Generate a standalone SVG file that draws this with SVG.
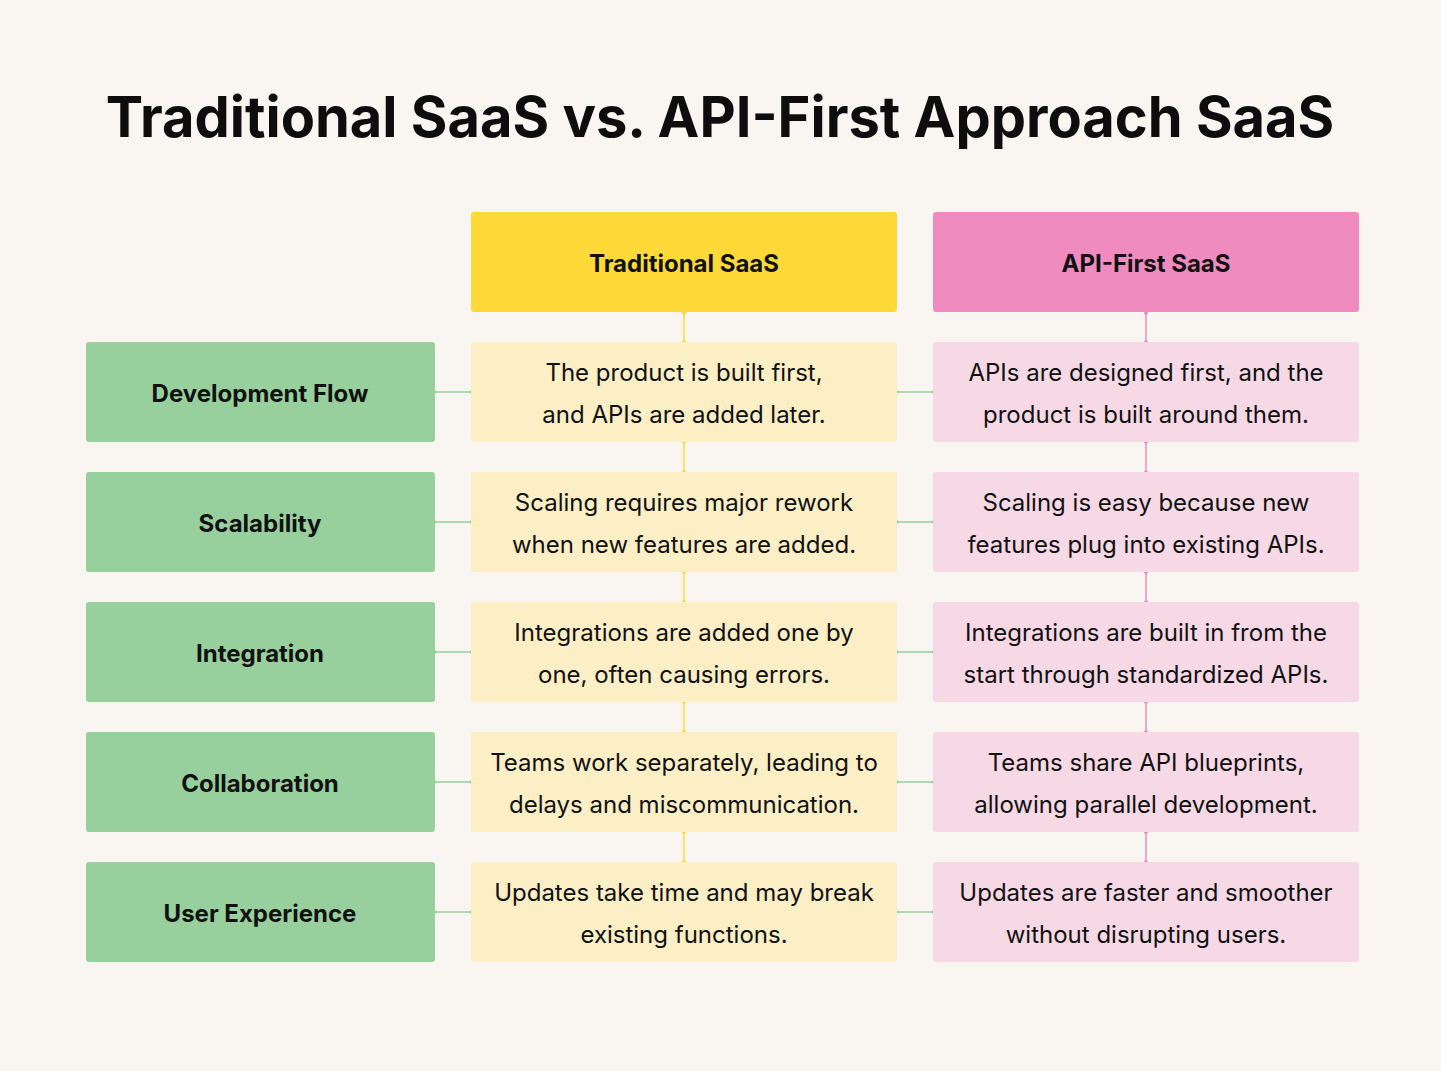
<svg xmlns="http://www.w3.org/2000/svg" width="1441" height="1071" viewBox="0 0 1441 1071">
<style>
.t{font-family:Inter,"Liberation Sans",sans-serif}
.h{font-weight:700;font-size:24px;text-anchor:middle;fill:#111}
.b{font-size:24px;text-anchor:middle;fill:#111}
.g{fill:#97cf9d}.y{fill:#fcefc6}.p{fill:#f7d9e6}
.cg{stroke:#97cf9d;stroke-width:1.5;marker-start:url(#dg);marker-end:url(#dg)}
.cy{stroke:#fdd93a;stroke-width:1.5;marker-start:url(#dy);marker-end:url(#dy)}
.cp{stroke:#ef8bbf;stroke-width:1.5;marker-start:url(#dp);marker-end:url(#dp)}
</style>
<defs>
<marker id="dg" viewBox="-3 -3 6 6" markerWidth="4" markerHeight="4" markerUnits="userSpaceOnUse"><path d="M0-3L3 0L0 3L-3 0Z" fill="#97cf9d"/></marker>
<marker id="dy" viewBox="-3 -3 6 6" markerWidth="5" markerHeight="5" markerUnits="userSpaceOnUse"><path d="M0-3L3 0L0 3L-3 0Z" fill="#fdd93a"/></marker>
<marker id="dp" viewBox="-3 -3 6 6" markerWidth="5" markerHeight="5" markerUnits="userSpaceOnUse"><path d="M0-3L3 0L0 3L-3 0Z" fill="#ef8bbf"/></marker>
</defs>
<rect width="1441" height="1071" fill="#f9f6f2"/>
<text class="t" x="720" y="137" text-anchor="middle" font-size="56" font-weight="700" fill="#0d0d0d">Traditional SaaS vs. API-First Approach SaaS</text>
<g id="connectors">
<line class="cy" x1="684" y1="313" x2="684" y2="342"/>
<line class="cy" x1="684" y1="442" x2="684" y2="472"/>
<line class="cy" x1="684" y1="572" x2="684" y2="602"/>
<line class="cy" x1="684" y1="702" x2="684" y2="732"/>
<line class="cy" x1="684" y1="832" x2="684" y2="862"/>
<line class="cp" x1="1146" y1="313" x2="1146" y2="342"/>
<line class="cp" x1="1146" y1="442" x2="1146" y2="472"/>
<line class="cp" x1="1146" y1="572" x2="1146" y2="602"/>
<line class="cp" x1="1146" y1="702" x2="1146" y2="732"/>
<line class="cp" x1="1146" y1="832" x2="1146" y2="862"/>
<line class="cg" x1="435" y1="392" x2="471" y2="392"/><line class="cg" x1="897" y1="392" x2="933" y2="392"/>
<line class="cg" x1="435" y1="522" x2="471" y2="522"/><line class="cg" x1="897" y1="522" x2="933" y2="522"/>
<line class="cg" x1="435" y1="652" x2="471" y2="652"/><line class="cg" x1="897" y1="652" x2="933" y2="652"/>
<line class="cg" x1="435" y1="782" x2="471" y2="782"/><line class="cg" x1="897" y1="782" x2="933" y2="782"/>
<line class="cg" x1="435" y1="912" x2="471" y2="912"/><line class="cg" x1="897" y1="912" x2="933" y2="912"/>
</g>
<g id="hdr-trad"><rect x="471" y="212" width="426" height="100" rx="3" fill="#fed937"/><text class="t h" x="684" y="272">Traditional SaaS</text></g>
<g id="hdr-api"><rect x="933" y="212" width="426" height="100" rx="3" fill="#ef8bbf"/><text class="t h" x="1146" y="272">API-First SaaS</text></g>

<g id="r1"><rect class="g" x="86" y="342" width="349" height="100" rx="3"/><text class="t h" x="260" y="402">Development Flow</text></g>
<g id="r1t"><rect class="y" x="471" y="342" width="426" height="100" rx="3"/><text class="t b" x="684" y="381">The product is built first,</text><text class="t b" x="684" y="423">and APIs are added later.</text></g>
<g id="r1a"><rect class="p" x="933" y="342" width="426" height="100" rx="3"/><text class="t b" x="1146" y="381">APIs are designed first, and the</text><text class="t b" x="1146" y="423">product is built around them.</text></g>

<g id="r2"><rect class="g" x="86" y="472" width="349" height="100" rx="3"/><text class="t h" x="260" y="532">Scalability</text></g>
<g id="r2t"><rect class="y" x="471" y="472" width="426" height="100" rx="3"/><text class="t b" x="684" y="511">Scaling requires major rework</text><text class="t b" x="684" y="553">when new features are added.</text></g>
<g id="r2a"><rect class="p" x="933" y="472" width="426" height="100" rx="3"/><text class="t b" x="1146" y="511">Scaling is easy because new</text><text class="t b" x="1146" y="553">features plug into existing APIs.</text></g>

<g id="r3"><rect class="g" x="86" y="602" width="349" height="100" rx="3"/><text class="t h" x="260" y="662">Integration</text></g>
<g id="r3t"><rect class="y" x="471" y="602" width="426" height="100" rx="3"/><text class="t b" x="684" y="641">Integrations are added one by</text><text class="t b" x="684" y="683">one, often causing errors.</text></g>
<g id="r3a"><rect class="p" x="933" y="602" width="426" height="100" rx="3"/><text class="t b" x="1146" y="641">Integrations are built in from the</text><text class="t b" x="1146" y="683">start through standardized APIs.</text></g>

<g id="r4"><rect class="g" x="86" y="732" width="349" height="100" rx="3"/><text class="t h" x="260" y="792">Collaboration</text></g>
<g id="r4t"><rect class="y" x="471" y="732" width="426" height="100" rx="3"/><text class="t b" x="684" y="771">Teams work separately, leading to</text><text class="t b" x="684" y="813">delays and miscommunication.</text></g>
<g id="r4a"><rect class="p" x="933" y="732" width="426" height="100" rx="3"/><text class="t b" x="1146" y="771">Teams share API blueprints,</text><text class="t b" x="1146" y="813">allowing parallel development.</text></g>

<g id="r5"><rect class="g" x="86" y="862" width="349" height="100" rx="3"/><text class="t h" x="260" y="922">User Experience</text></g>
<g id="r5t"><rect class="y" x="471" y="862" width="426" height="100" rx="3"/><text class="t b" x="684" y="901">Updates take time and may break</text><text class="t b" x="684" y="943">existing functions.</text></g>
<g id="r5a"><rect class="p" x="933" y="862" width="426" height="100" rx="3"/><text class="t b" x="1146" y="901">Updates are faster and smoother</text><text class="t b" x="1146" y="943">without disrupting users.</text></g>
</svg>
